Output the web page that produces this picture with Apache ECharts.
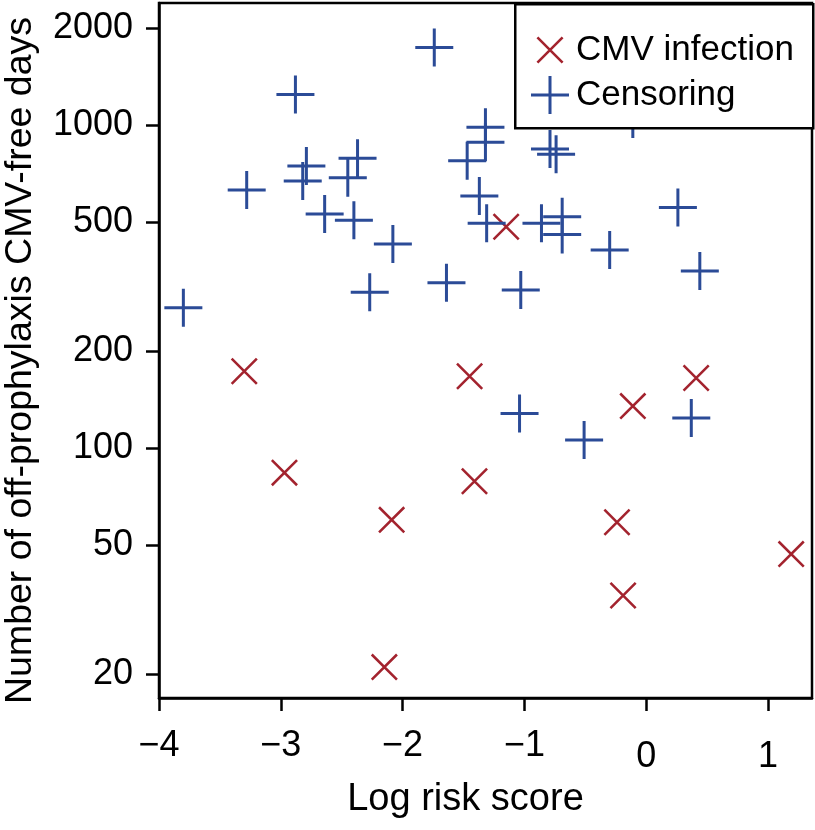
<!DOCTYPE html>
<html><head><meta charset="utf-8">
<script src="https://cdn.jsdelivr.net/npm/echarts@6/dist/echarts.min.js"></script>
<style>html,body{margin:0;padding:0;background:#fff}#c{width:815px;height:830px}</style>
</head><body><div id="c"></div>
<script>
// ---- data ----
const infectionX = [-3.30, -1.45, 0.41, -0.11, -2.97, -1.41, -2.09, -0.24, 1.19, -0.19, -2.15, -1.15];
const infectionY = [173, 167, 165, 135, 84, 79, 60, 59, 47, 35, 21, 485];
const censorX = [-1.74, -2.88, -3.28, -2.79, -2.82, -2.37, -2.45, -2.64, -2.40, -2.08, -3.80, -2.27, -1.64,
                 -1.32, -1.32, -1.47, -1.37, -1.31, -0.79, -0.74, -0.86, -0.69, -0.69, -0.30, 0.26, 0.44,
                 -1.03, -1.04, -0.51, 0.37, -0.11];
const censorY = [1740, 1245, 630, 748, 672, 790, 688, 531, 508, 429, 272, 304, 325,
                 985, 885, 776, 604, 497, 844, 813, 497, 521, 459, 411, 556, 354,
                 309, 128, 106, 124, 1046];
const xTicks = [-4, -3, -2, -1, 0, 1];
const yTicks = [20, 50, 100, 200, 500, 1000, 2000];
const seriesNames = ['CMV infection', 'Censoring'];
const xTitle = 'Log risk score';
const yTitle = 'Number of off-prophylaxis CMV-free days';

const X_MIN = -4, X_MAX = 1.361, Y_MIN = 16.85, Y_MAX = 2390;
const RED = '#A3232E', BLUE = '#2B4B97';
const FONT = 'Liberation Sans';

const plusPath = 'path://M17.5,0h3v38h-3zM0,17.5h38v3h-38z';
const crossPath = 'path://M0,0L0.01,0ZM38,38L37.99,38ZM5.5,7.3L7.3,5.5L32.5,30.7L30.7,32.5ZM30.7,5.5L32.5,7.3L7.3,32.5L5.5,30.7Z';

const zip = (a, b) => a.map((v, i) => [v, b[i]]);

const chart = echarts.init(document.getElementById('c'), null, {renderer: 'canvas'});
chart.setOption({
  animation: false,
  backgroundColor: '#fff',
  grid: {left: 159, right: 3, top: 3, bottom: 132, show: true, borderColor: '#000', borderWidth: 2.5,
         containLabel: false, outerBoundsMode: 'none'},
  xAxis: {
    type: 'value', min: X_MIN, max: X_MAX,
    axisLine: {show: true, lineStyle: {color: '#000', width: 2.5}},
    axisTick: {show: true, length: 13, lineStyle: {color: '#000', width: 2.5}, customValues: xTicks},
    axisLabel: {color: '#000', fontSize: 36, fontFamily: FONT, margin: 30, customValues: xTicks,
      formatter: v => v < 0 ? '{n|\u2212' + Math.abs(v) + '}' : '{p|' + v + '}',
      rich: {
        n: {color: '#000', fontSize: 36, fontFamily: FONT},
        p: {color: '#000', fontSize: 36, fontFamily: FONT, padding: [11, 0, 0, 0]}
      }},
    splitLine: {show: false},
    name: xTitle, nameLocation: 'middle', nameGap: 83,
    nameTextStyle: {color: '#000', fontSize: 38, fontFamily: FONT, padding: [0, 40, 0, 0]}
  },
  yAxis: [
    {type: 'log', min: Y_MIN, max: Y_MAX, show: false, splitLine: {show: false}},
    {
      type: 'value', position: 'left', min: Math.log10(Y_MIN), max: Math.log10(Y_MAX),
      axisLine: {show: true, lineStyle: {color: '#000', width: 2.5}},
      axisTick: {show: true, length: 13, lineStyle: {color: '#000', width: 2.5}, customValues: yTicks.map(Math.log10)},
      axisLabel: {color: '#000', fontSize: 36, fontFamily: FONT, margin: 26, customValues: yTicks.map(Math.log10),
        formatter: v => String(Math.round(Math.pow(10, v)))},
      splitLine: {show: false},
      name: yTitle, nameLocation: 'middle', nameGap: 119,
      nameTextStyle: {color: '#000', fontSize: 37.5, fontFamily: FONT, padding: [0, 0, 0, -20]}
    }
  ],
  graphic: [{
    type: 'rect', left: 514, top: 3, z: 3,
    shape: {width: 298, height: 124},
    style: {fill: '#fff', stroke: '#000', lineWidth: 2.5}
  }],
  legend: {
    orient: 'vertical', left: 526, top: 26, itemWidth: 38, itemHeight: 38, itemGap: 7, z: 10,
    data: seriesNames,
    textStyle: {color: '#000', fontSize: 35, fontFamily: FONT, padding: [0, 0, 0, 2]}
  },
  series: [
    {name: seriesNames[0], type: 'scatter', yAxisIndex: 0, symbol: crossPath, symbolSize: 38,
     itemStyle: {color: RED, opacity: 1}, data: zip(infectionX, infectionY)},
    {name: seriesNames[1], type: 'scatter', yAxisIndex: 0, symbol: plusPath, symbolSize: 38,
     itemStyle: {color: BLUE, opacity: 1}, data: zip(censorX, censorY)}
  ]
});
</script>
</body></html>
